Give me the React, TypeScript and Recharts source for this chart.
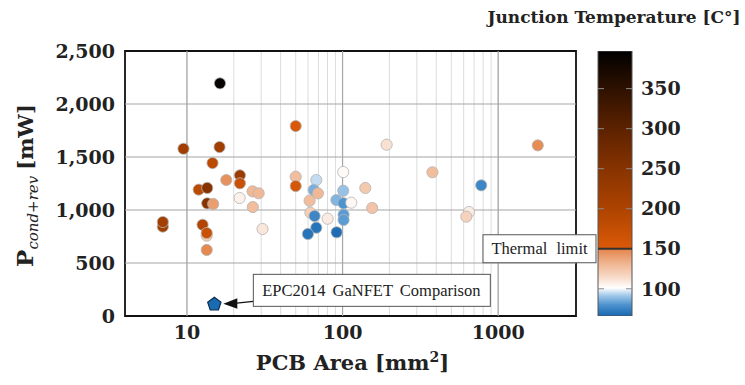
import React from "react";
import {
  ScatterChart, Scatter, XAxis, YAxis, CartesianGrid, ReferenceLine, ReferenceArea, ReferenceDot,
  BarChart, Bar, Label,
} from "recharts";

// PCB area [mm^2], conduction+reverse loss [mW], junction temperature [C]
const AREA = [16.3, 9.5, 16.2, 14.6, 17.9, 21.9, 21.9, 11.9, 13.5, 26.4, 28.9, 21.8, 13.5, 14.75, 26.5, 7.0, 7.0, 12.6, 13.4, 13.4, 13.4, 30.6,
  50, 192, 50, 50, 67.8, 101, 65.2, 69.5, 101, 140, 61.4, 91.2, 101.5, 113.7, 155, 62.1, 66.1, 80.2, 101.5, 101.5, 67.8, 59.9, 91.6,
  1796, 378, 778, 649, 624];
const POWER = [2195, 1578, 1594, 1443, 1283, 1327, 1252, 1192, 1208, 1176, 1158, 1113, 1063, 1057, 1028, 843, 887, 861, 758, 783, 623, 821,
  1792, 1616, 1314, 1226, 1283, 1358, 1189, 1157, 1182, 1208, 1088, 1094, 1063, 1069, 1019, 975, 943, 918, 956, 906, 833, 774, 790,
  1610, 1356, 1233, 981, 937];
const TEMP = [390, 215, 215, 185, 145, 225, 170, 185, 250, 130, 130, 106, 250, 140, 128, 215, 215, 195, 122, 170, 148, 110,
  152, 112, 128, 158, 95, 103, 86, 130, 90, 122, 128, 87, 80, 104, 125, 120, 76, 108, 82, 82, 70, 70, 68,
  147, 128, 76, 108, 118];

const EPC_AREA = 15;
const EPC_POWER = 110;

const X_TICKS = [10, 20, 30, 40, 50, 60, 70, 80, 90, 100, 200, 300, 400, 500, 600, 700, 800, 900, 1000];
const X_MAJOR = [10, 100, 1000];
const Y_TICKS = [0, 500, 1000, 1500, 2000, 2500];
const Y_MAJOR = [500, 1000, 1500, 2000];
const CBAR_TICKS = [100, 150, 200, 250, 300, 350];
const TEMP_MIN = 66;
const TEMP_MAX = 397;
const THERMAL_LIMIT = 150;

const CMAP: [number, string][] = [
  [66, "#1767b0"], [80, "#4d93cf"], [92, "#a6cbea"], [101, "#ffffff"], [115, "#f7d9c6"], [132, "#efb48f"], [149.9, "#e4844a"],
  [150, "#dc5a08"], [200, "#ad4300"], [250, "#873300"], [300, "#5c2200"], [350, "#2e1100"], [397, "#000000"],
];

const points = AREA.map((x, i) => ({ x, y: POWER[i], t: TEMP[i] }));
const epc = [{ x: EPC_AREA, y: EPC_POWER }];
const cbarData = [{ name: "T", range: [TEMP_MIN, TEMP_MAX] }];

function rgb(h: string) {
  const n = parseInt(h.slice(1), 16);
  return [(n >> 16) & 255, (n >> 8) & 255, n & 255];
}

function tempColor(t: number) {
  for (let i = 0; i < CMAP.length - 1; i++) {
    const [t0, c0] = CMAP[i];
    const [t1, c1] = CMAP[i + 1];
    if (t <= t1) {
      const f = Math.max(0, Math.min(1, (t - t0) / (t1 - t0)));
      const a = rgb(c0), b = rgb(c1);
      const c = a.map((v, k) => Math.round(v + (b[k] - v) * f));
      return `rgb(${c[0]},${c[1]},${c[2]})`;
    }
  }
  return CMAP[CMAP.length - 1][1];
}

const SERIF = "'DejaVu Serif', serif";
const ROMAN = "'Liberation Serif', serif";
const tickStyle = { fontSize: 19, fontWeight: "bold", fill: "#222", fontFamily: SERIF };

const Dot = (p: any) => (
  <circle cx={p.cx} cy={p.cy} r={5.6} fill={tempColor(p.payload.t)} stroke="#b4b4b4" strokeWidth={0.8} />
);

const Pentagon = (p: any) => {
  const pts = [0, 1, 2, 3, 4].map(i => {
    const a = (-90 + 72 * i) * Math.PI / 180;
    return `${p.cx + 7 * Math.cos(a)},${p.cy + 7 * Math.sin(a)}`;
  }).join(" ");
  return <polygon points={pts} fill="#1a6cb0" stroke="#0d2d55" strokeWidth={1.2} />;
};

const EpcNote = (p: any) => {
  const { cx, cy } = p;
  return (
    <g>
      <line x1={cx + 39} y1={cy - 3} x2={cx + 20} y2={cy - 1} stroke="#111" strokeWidth={1.3} />
      <polygon points={`${cx + 9},${cy - 0.6} ${cx + 23},${cy - 6} ${cx + 23},${cy + 4.5}`} fill="#111" />
      <rect x={cx + 39} y={cy - 30} width={237} height={32} fill="#fff" stroke="#555" strokeWidth={1} />
      <text x={cx + 157} y={cy - 8.5} textAnchor="middle" fontFamily={ROMAN} fontSize={16.5} wordSpacing={3} fill="#222">
        EPC2014 GaNFET Comparison
      </text>
    </g>
  );
};

const XLabel = (props: any) => {
  const vb = props.viewBox;
  const x = vb.x + vb.width / 2 + 2;
  const y = vb.y + 54;
  return (
    <text x={x} y={y} textAnchor="middle" fontFamily={SERIF} fontWeight="bold" fontSize={21} fill="#222">
      PCB Area [mm<tspan fontSize={14} dy={-8}>2</tspan><tspan dy={8}>]</tspan>
    </text>
  );
};

const YLabel = (props: any) => {
  const vb = props.viewBox;
  const cy = vb.y + vb.height / 2 + 2;
  const x = 33;
  return (
    <text x={x} y={cy} transform={`rotate(-90 ${x} ${cy})`} textAnchor="middle" fontFamily={SERIF} fill="#222">
      <tspan fontWeight="bold" fontSize={23}>P</tspan>
      <tspan fontStyle="italic" fontSize={15} dy={5}>cond+rev</tspan>
      <tspan fontWeight="bold" fontSize={21} dy={-5} dx={6}>[mW]</tspan>
    </text>
  );
};

const CbarTitle = (props: any) => {
  const vb = props.viewBox;
  return (
    <text x={vb.x - 18} y={vb.y - 28} textAnchor="middle" fontFamily={SERIF} fontWeight="bold" fontSize={17} fill="#222">
      Junction Temperature [C°]
    </text>
  );
};

const ThermalNote = (props: any) => {
  const vb = props.viewBox;
  const x = vb.x, y = vb.y;
  return (
    <g>
      <rect x={x - 115} y={y - 14} width={113} height={28} fill="#fff" stroke="#555" strokeWidth={1} />
      <text x={x - 58.5} y={y + 5.5} textAnchor="middle" fontFamily={ROMAN} fontSize={16.5} wordSpacing={5} fill="#222">
        Thermal limit
      </text>
    </g>
  );
};

export default function App() {
  return (
    <div style={{ position: "absolute", left: 0, top: 0, width: 745, height: 385, background: "#fff" }}>
      <div style={{ position: "absolute", left: 0, top: 0 }}>
        <ScatterChart width={745} height={385} margin={{ top: 51, right: 169, bottom: 0, left: 0 }}>
          <CartesianGrid horizontal={false} stroke="#dcdcdc" strokeWidth={1} />
          <XAxis
            type="number" dataKey="x" scale="log" domain={[4, 3162]} allowDataOverflow ticks={X_TICKS} interval={0}
            tickFormatter={(v: number) => (X_MAJOR.includes(v) ? String(v) : "")}
            height={69} tickLine={false} axisLine={false} tickSize={0} tickMargin={10} tick={tickStyle}
          >
            <Label content={XLabel} />
          </XAxis>
          <YAxis
            type="number" dataKey="y" domain={[0, 2500]} allowDataOverflow ticks={Y_TICKS} interval={0}
            tickFormatter={(v: number) => v.toLocaleString("en-US")}
            width={125} tickLine={false} axisLine={false} tickSize={0} tickMargin={10} tick={tickStyle}
          >
            <Label content={YLabel} />
          </YAxis>
          {X_MAJOR.map(v => <ReferenceLine key={"x" + v} x={v} stroke="#a6a6a6" strokeWidth={1.2} />)}
          {Y_MAJOR.map(v => <ReferenceLine key={"y" + v} y={v} stroke="#a6a6a6" strokeWidth={1.2} />)}
          <ReferenceArea x1={4} x2={3162} y1={0} y2={2500} fill="none" fillOpacity={0} stroke="#111" strokeWidth={1.8} />
          <Scatter data={points} shape={Dot} isAnimationActive={false} />
          <Scatter data={epc} shape={Pentagon} isAnimationActive={false} />
          <ReferenceDot x={EPC_AREA} y={EPC_POWER} shape={EpcNote} />
        </ScatterChart>
      </div>
      <div style={{ position: "absolute", left: 470, top: 0 }}>
        <BarChart width={275} height={385} data={cbarData} margin={{ top: 51, right: 0, bottom: 69, left: 128 }} barCategoryGap={0}>
          <defs>
            <linearGradient id="cmapGrad" x1="0" y1="0" x2="0" y2="1">
              {CMAP.map(([t, c], i) => (
                <stop key={i} offset={(TEMP_MAX - t) / (TEMP_MAX - TEMP_MIN)} stopColor={c} />
              )).reverse()}
            </linearGradient>
          </defs>
          <XAxis dataKey="name" type="category" hide />
          <YAxis
            orientation="right" type="number" domain={[TEMP_MIN, TEMP_MAX]} allowDataOverflow ticks={CBAR_TICKS} interval={0}
            width={113} tickLine={false} axisLine={false} tickSize={0} tickMargin={9} tick={tickStyle}
          >
            <Label content={CbarTitle} />
          </YAxis>
          <Bar dataKey="range" fill="url(#cmapGrad)" stroke="#555" strokeWidth={1} isAnimationActive={false} />
          {CBAR_TICKS.filter(t => t !== THERMAL_LIMIT).map(t => (
            <ReferenceLine key={t} y={t} stroke="#8a8a8a" strokeWidth={1} strokeDasharray="6 22 6" />
          ))}
          <ReferenceLine y={THERMAL_LIMIT} stroke="#333" strokeWidth={2} label={<Label content={ThermalNote} />} />
        </BarChart>
      </div>
    </div>
  );
}
